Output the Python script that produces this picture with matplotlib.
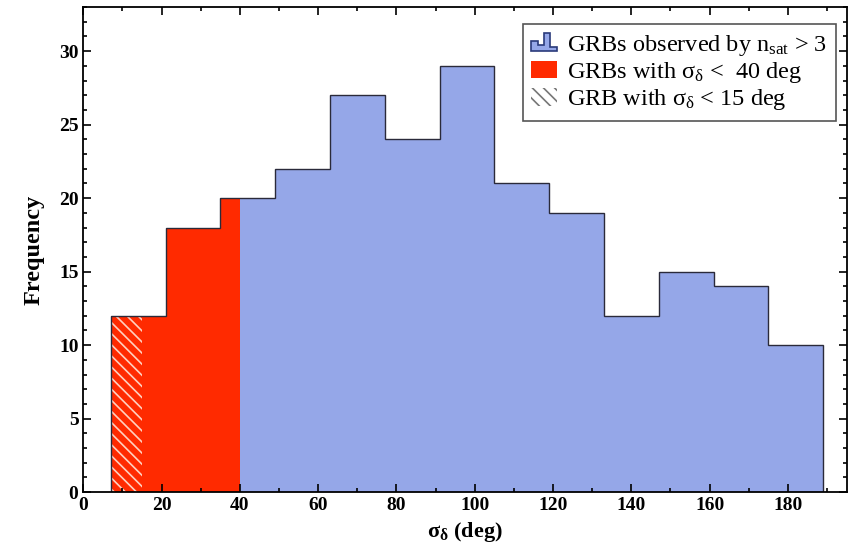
import numpy as np
import matplotlib
matplotlib.use('Agg')
import matplotlib.pyplot as plt
from matplotlib.patches import Patch, Polygon
from matplotlib.legend_handler import HandlerBase
from matplotlib.ticker import MultipleLocator

# bin edges (deg) and counts
edges = [7, 21, 35, 49, 63, 77, 91, 105, 119, 133, 147, 161, 175, 189]
counts = [12, 18, 20, 22, 27, 24, 29, 21, 19, 12, 15, 14, 10]
red_cut = 40
hatch_cut = 15

plt.rcParams['font.family'] = 'Liberation Serif'
plt.rcParams['mathtext.fontset'] = 'custom'
plt.rcParams['mathtext.rm'] = 'Liberation Serif'
plt.rcParams['mathtext.it'] = 'Liberation Serif'
plt.rcParams['mathtext.bf'] = 'Liberation Serif:bold'
plt.rcParams['hatch.linewidth'] = 1.2

blue = '#95a7e8'
red = '#ff2a00'


def clip_hist(cut):
    e = [x for x in edges if x < cut] + [cut]
    c = counts[:len(e) - 1]
    return e, c


class StepHandler(HandlerBase):
    # little step-shaped icon like the one in the original legend
    def create_artists(self, legend, orig, xd, yd, w, h, fs, trans):
        xs = [0, 0, .28, .28, .5, .5, .75, .75, 1.0, 1.0]
        ys = [0, .55, .55, .35, .35, 1.0, 1.0, .2, .2, 0]
        pts = [(-xd + x * w, -yd + y * h) for x, y in zip(xs, ys)]
        p = Polygon(pts, closed=True, facecolor=blue, edgecolor='#2a3a7a',
                    lw=1.2, transform=trans)
        return [p]


fig, ax = plt.subplots(figsize=(8.5, 5.45), dpi=100)
fig.subplots_adjust(left=0.098, right=0.996, top=0.987, bottom=0.097)

ax.stairs(counts, edges, fill=True, color=blue)
e_red, c_red = clip_hist(red_cut)
ax.stairs(c_red, e_red, fill=True, color=red)
e_h, c_h = clip_hist(hatch_cut)
ax.stairs(c_h, e_h, fill=True, facecolor=red, edgecolor='#ffd0c0',
          hatch='\\\\\\', lw=0)
ax.stairs(counts, edges, color='#2a2a3a', lw=1.0)

ax.set_xlim(0, 195)
ax.set_ylim(0, 33)
ax.xaxis.set_major_locator(MultipleLocator(20))
ax.xaxis.set_minor_locator(MultipleLocator(10))
ax.yaxis.set_major_locator(MultipleLocator(5))
ax.yaxis.set_minor_locator(MultipleLocator(1))
ax.tick_params(which='both', direction='in', top=True, right=True, width=1.2)
ax.tick_params(which='major', length=6, labelsize=14)
ax.tick_params(which='minor', length=3)
for lab in ax.get_xticklabels() + ax.get_yticklabels():
    lab.set_fontweight('bold')
for s in ax.spines.values():
    s.set_linewidth(1.3)

ax.set_xlabel(r'$\mathbf{\sigma_{\delta}}$ (deg)', fontsize=16, fontweight='bold')
ax.set_ylabel('Frequency', fontsize=17.5, fontweight='bold', labelpad=10)

h1 = Patch(facecolor=blue)
h2 = Patch(facecolor=red)
h3 = Patch(facecolor='white', edgecolor='#777777', hatch='\\\\\\', lw=0)
leg = ax.legend([h1, h2, h3],
                [r'GRBs observed by $\mathregular{n_{sat}}$ > 3',
                 r'GRBs with $\mathregular{\sigma_{\delta}}$ <  40 deg',
                 r'GRB with $\mathregular{\sigma_{\delta}}$ < 15 deg'],
                handler_map={h1: StepHandler()},
                loc='upper right', fontsize=17.5, fancybox=False,
                edgecolor='#555555', framealpha=1, handlelength=1.05,
                handleheight=0.75, handletextpad=0.45, labelspacing=0.1,
                borderpad=0.35, borderaxespad=0, bbox_to_anchor=(0.986, 0.965))
leg.get_frame().set_linewidth(1.2)

fig.savefig('out.png', dpi=100)
